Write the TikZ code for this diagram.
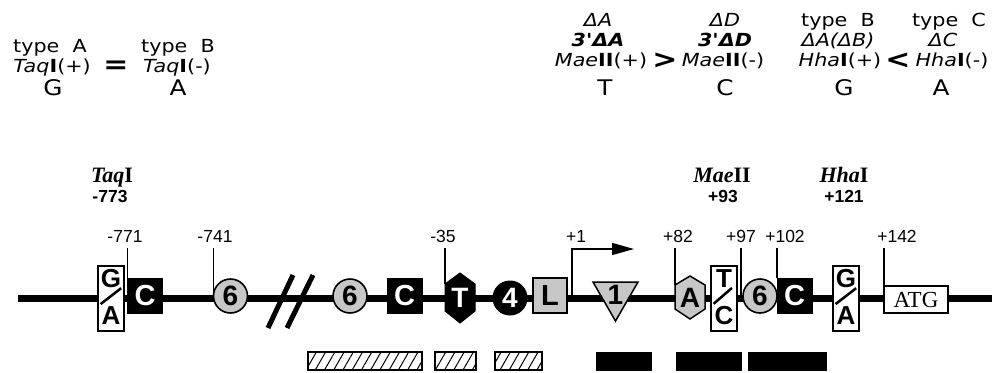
\documentclass[tikz,border=0pt]{standalone}
\usepackage{fontspec}
\setmainfont{Liberation Sans}
\newfontfamily\hdr[FakeStretch=1.15]{DejaVu Sans}
\newfontfamily\tms{Liberation Serif}
\usetikzlibrary{arrows.meta,patterns.meta}
\begin{document}
\begin{tikzpicture}[x=1pt,y=-1pt,
  every node/.style={inner sep=0pt, outer sep=0pt},
  num/.style={font=\fontsize{17.5}{17.5}\selectfont, anchor=base},
  enz/.style={font=\tms\bfseries\itshape\fontsize{22}{22}\selectfont, anchor=base},
  posn/.style={font=\bfseries\fontsize{17.5}{17.5}\selectfont, anchor=base},
  hd/.style={font=\hdr\fontsize{18}{18}\selectfont, anchor=base},
  big/.style={font=\hdr\fontsize{21.5}{21.5}\selectfont, anchor=base},
  rel/.style={font=\hdr\bfseries\fontsize{26}{26}\selectfont},
  tick/.style={line width=1.3pt},
  blk/.style={draw, line width=1pt, fill=black, text=white, minimum width=35pt, minimum height=35pt, font=\bfseries\fontsize{29}{29}\selectfont},
  grb/.style={draw, line width=1.5pt, fill=black!22, minimum width=34pt, minimum height=35pt, font=\bfseries\fontsize{29}{29}\selectfont},
  grc/.style={circle, draw, line width=1.6pt, fill=black!22, minimum size=34pt, font=\bfseries\fontsize{28}{28}\selectfont},
  blc/.style={circle, draw, line width=1pt, fill=black, text=white, minimum size=34pt, font=\bfseries\fontsize{28}{28}\selectfont},
  alt/.style={draw, line width=1.5pt, fill=white, minimum width=26pt, minimum height=65pt},
  altl/.style={font=\bfseries\fontsize{26}{26}\selectfont},
  shp/.style={font=\bfseries\fontsize{28}{28}\selectfont},
  hatch/.style={draw, line width=1.5pt, minimum height=18pt, pattern={Lines[angle=60,distance=8pt,line width=1pt]}},
  solid bar/.style={draw, fill=black, minimum height=18pt}
]
\useasboundingbox (0,0) rectangle (998,372);

% ---------- header, left ----------
\node[hd] (tA) at (50,52) {type~~A};
\node[hd] (tqp) at (52,72) {{\itshape Taq}{\bfseries I}(+)};
\node[big] (gL) at (53,95) {G};
\node[hd] (tB) at (178,52) {type~~B};
\node[hd] (tqm) at (177,72) {{\itshape Taq}{\bfseries I}(-)};
\node[big] (aL) at (178,95) {A};
\node[rel] (eq) at (116,67) {=};

% ---------- header, right ----------
\node[hd] (r1a) at (598,26) {\itshape ΔA};
\node[hd] (r1b) at (598,46) {\bfseries\itshape 3'ΔA};
\node[hd] (r1c) at (601,66) {{\itshape Mae}{\bfseries II}(+)};
\node[big] (r1d) at (605,95) {T};
\node[rel] (gt) at (665,61) {>};
\node[hd] (r2a) at (725,26) {\itshape ΔD};
\node[hd] (r2b) at (725,46) {\bfseries\itshape 3'ΔD};
\node[hd] (r2c) at (723,66) {{\itshape Mae}{\bfseries II}(-)};
\node[big] (r2d) at (725,95) {C};
\node[hd] (r3a) at (838,26) {type~~B};
\node[hd] (r3b) at (838,46) {\itshape ΔA(ΔB)};
\node[hd] (r3c) at (840,66) {{\itshape Hha}{\bfseries I}(+)};
\node[big] (r3d) at (844,95) {G};
\node[rel] (lt) at (898,61) {<};
\node[hd] (r4a) at (949,26) {type~~C};
\node[hd] (r4b) at (943,46) {\itshape ΔC};
\node[hd] (r4c) at (952,66) {{\itshape Hha}{\bfseries I}(-)};
\node[big] (r4d) at (941,95) {A};

% ---------- enzyme sites ----------
\node[enz] (taq) at (112,182) {Taq\upshape I};
\node[posn] (p773) at (110,202) {-773};
\node[enz] (mae) at (722,182) {Mae\upshape II};
\node[posn] (p93) at (723,202) {+93};
\node[enz] (hha) at (844,182) {Hha\upshape I};
\node[posn] (p121) at (844,202) {+121};

% ---------- main line ----------
\coordinate (L0) at (18,298);
\coordinate (L1) at (992,298);
\draw[line width=7pt] (L0) -- (L1);

% break marks
\coordinate (s1a) at (268,328); \coordinate (s1b) at (293,275);
\coordinate (s2a) at (287,328); \coordinate (s2b) at (313,275);
\draw[line width=5pt] (s1a) -- (s1b);
\draw[line width=5pt] (s2a) -- (s2b);

% G/A box 1
\node[alt] (ga1) at (111,298.5) {};
\node[altl] (ga1g) at (111,279) {G};
\node[altl] (ga1a) at (111,316) {A};
\draw[line width=2.5pt] (ga1a.north west) ++(-1,-3) coordinate (ga1s) -- (ga1g.south east);

\node[blk] (c1) at (145,295.5) {C};
\node[grc] (s6a) at (230.5,296) {6};
\node[grc] (s6b) at (350,296) {6};
\node[blk] (c2) at (404.5,295.5) {C};

% T hexagon
\draw[fill=black, line width=1pt] (460,273) -- (475,284) -- (475,311) -- (460,323) -- (445,311) -- (445,284) -- cycle;
\coordinate (hexT) at (445,284);
\node[shp, text=white] (tT) at (460,298) {T};

\node[blc] (s4) at (510,298) {4};
\node[grb] (bL) at (550,295.5) {L};

% +1 start and arrow
\coordinate (tss) at (572,295);
\coordinate (arrE) at (634,249);

% triangle 1
\draw[fill=black!22, line width=1.5pt] (593,282) -- (638,282) -- (615.5,321) -- cycle;
\node[shp] (one) at (615.5,295) {1};

% A hexagon
\draw[fill=black!22, line width=1.5pt] (690,276) -- (705,285) -- (705,309) -- (690,319) -- (675,309) -- (675,285) -- cycle;
\coordinate (hexA) at (675,285);
\node[shp] (tA2) at (690,298) {A};

% T/C box
\node[alt] (tc) at (724,298.5) {};
\node[altl] (tct) at (724,279) {T};
\node[altl] (tcc) at (724,316) {C};
\draw[line width=2.5pt] (tcc.north west) ++(-1,-3) -- (tct.south east);

\coordinate (p97c) at (741,295);
\node[grc] (s6c) at (760,296) {6};
\node[blk] (c3) at (794.5,295.5) {C};

% G/A box 2
\node[alt] (ga2) at (846,298.5) {};
\node[altl] (ga2g) at (846,279) {G};
\node[altl] (ga2a) at (846,316) {A};
\draw[line width=2.5pt] (ga2a.north west) ++(-1,-3) -- (ga2g.south east);

\node[draw, line width=1.5pt, fill=white, minimum width=64pt, minimum height=27pt, font=\tms\fontsize{23}{23}\selectfont] (atg) at (916,299.5) {ATG};

% ---------- position labels and ticks ----------
\node[num] (l771) at (125,242) {-771};
\node[num] (l741) at (215,242) {-741};
\node[num] (l35) at (443,242) {-35};
\node[num] (l1) at (576,242) {+1};
\node[num] (l82) at (678,242) {+82};
\node[num] (l97) at (741,242) {+97};
\node[num] (l102) at (785,242) {+102};
\node[num] (l142) at (897,242) {+142};

\draw[tick] (c1.north west) -- ([yshift=-6pt]c1.north west |- l771.south);
\draw[tick] (s6a.west) -- ([yshift=-6pt]s6a.west |- l741.south);
\draw[tick] (hexT) -- ([yshift=-6pt]hexT |- l35.south);
\draw[tick, -{Triangle[length=22pt,width=12pt]}] (tss) |- (arrE);
\draw[tick] (hexA) -- ([yshift=-6pt]hexA |- l82.south);
\draw[tick] (p97c) -- ([yshift=-6pt]p97c |- l97.south);
\draw[tick] (c3.north west) -- ([yshift=-6pt]c3.north west |- l102.south);
\draw[tick] (atg.north west) -- ([yshift=-6pt]atg.north west |- l142.south);

% ---------- bottom bars ----------
\node[hatch, minimum width=114pt] (h1) at (365,361) {};
\node[hatch, minimum width=41pt] (h2) at (455.5,361) {};
\node[hatch, minimum width=47pt] (h3) at (518.5,361) {};
\node[solid bar, minimum width=55pt] (b1) at (623.5,361) {};
\node[solid bar, minimum width=65pt] (b2) at (708.5,361) {};
\node[solid bar, minimum width=78pt] (b3) at (787,361) {};
\end{tikzpicture}
\end{document}
